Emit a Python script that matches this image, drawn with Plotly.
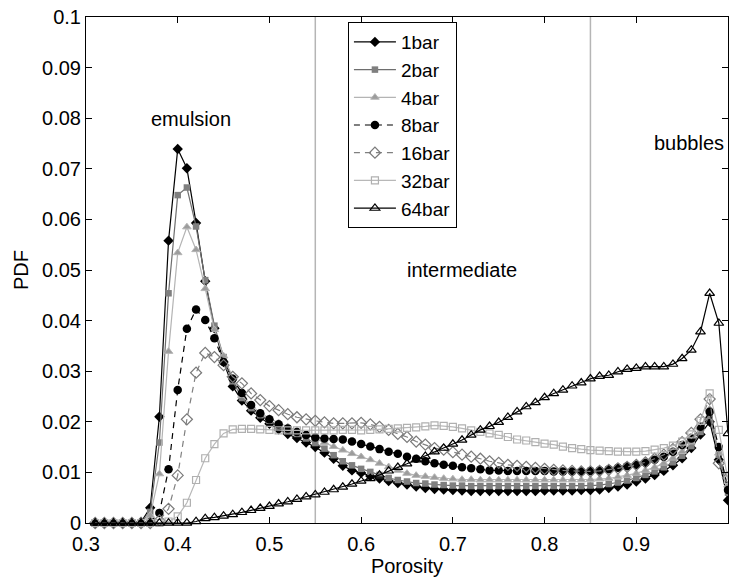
import plotly.graph_objects as go

porosity = [0.31, 0.32, 0.33, 0.34, 0.35, 0.36, 0.37, 0.38, 0.39, 0.40,
            0.41, 0.42, 0.43, 0.44, 0.45, 0.46, 0.47, 0.48, 0.49, 0.50,
            0.51, 0.52, 0.53, 0.54, 0.55, 0.56, 0.57, 0.58, 0.59, 0.60,
            0.61, 0.62, 0.63, 0.64, 0.65, 0.66, 0.67, 0.68, 0.69, 0.70,
            0.71, 0.72, 0.73, 0.74, 0.75, 0.76, 0.77, 0.78, 0.79, 0.80,
            0.81, 0.82, 0.83, 0.84, 0.85, 0.86, 0.87, 0.88, 0.89, 0.90,
            0.91, 0.92, 0.93, 0.94, 0.95, 0.96, 0.97, 0.98, 0.99, 1.00]

pdf_1bar = [0, 0, 0, 0, 0, 0.0002, 0.0030, 0.0210, 0.0558, 0.0739,
            0.0701, 0.0593, 0.0478, 0.0385, 0.0318, 0.0270, 0.0242, 0.0222, 0.0208, 0.0196,
            0.0185, 0.0176, 0.0168, 0.0159, 0.0150, 0.0139, 0.0127, 0.0113, 0.0104, 0.0099,
            0.0093, 0.0088, 0.0083, 0.0079, 0.0076, 0.0072, 0.0069, 0.0067, 0.0066, 0.0065,
            0.0064, 0.0063, 0.0063, 0.0063, 0.0063, 0.0063, 0.0063, 0.0063, 0.0063, 0.0064,
            0.0064, 0.0064, 0.0064, 0.0065, 0.0065, 0.0066, 0.0069, 0.0072, 0.0076, 0.0082,
            0.0088, 0.0095, 0.0103, 0.0114, 0.0128, 0.0148, 0.0175, 0.0200, 0.0125, 0.0045]

pdf_2bar = [0, 0, 0, 0, 0, 0.0001, 0.0022, 0.0159, 0.0454, 0.0648,
            0.0663, 0.0586, 0.0480, 0.0390, 0.0328, 0.0280, 0.0247, 0.0227, 0.0213, 0.0202,
            0.0192, 0.0184, 0.0176, 0.0167, 0.0158, 0.0147, 0.0134, 0.0122, 0.0114, 0.0107,
            0.0101, 0.0095, 0.0089, 0.0085, 0.0082, 0.0079, 0.0078, 0.0076, 0.0075, 0.0074,
            0.0074, 0.0073, 0.0073, 0.0073, 0.0073, 0.0073, 0.0073, 0.0073, 0.0073, 0.0073,
            0.0073, 0.0073, 0.0073, 0.0073, 0.0074, 0.0075, 0.0077, 0.0080, 0.0084, 0.0089,
            0.0095, 0.0102, 0.0110, 0.0120, 0.0133, 0.0152, 0.0180, 0.0212, 0.0135, 0.0060]

pdf_4bar = [0, 0, 0, 0, 0, 0.0001, 0.0015, 0.0097, 0.0339, 0.0534,
            0.0585, 0.0540, 0.0463, 0.0382, 0.0330, 0.0287, 0.0252, 0.0232, 0.0218, 0.0207,
            0.0198, 0.0190, 0.0183, 0.0175, 0.0167, 0.0159, 0.0151, 0.0144, 0.0137, 0.0131,
            0.0125, 0.0118, 0.0111, 0.0104, 0.0098, 0.0094, 0.0092, 0.0090, 0.0088, 0.0087,
            0.0086, 0.0086, 0.0085, 0.0085, 0.0085, 0.0085, 0.0085, 0.0085, 0.0085, 0.0085,
            0.0085, 0.0085, 0.0085, 0.0085, 0.0086, 0.0087, 0.0088, 0.0091, 0.0094, 0.0098,
            0.0104, 0.0110, 0.0118, 0.0128, 0.0141, 0.0160, 0.0188, 0.0225, 0.0138, 0.0075]

pdf_8bar = [0, 0, 0, 0, 0, 0, 0.0002, 0.0020, 0.0106, 0.0263,
            0.0384, 0.0422, 0.0401, 0.0365, 0.0318, 0.0285, 0.0257, 0.0233, 0.0217, 0.0205,
            0.0195, 0.0187, 0.0180, 0.0174, 0.0169, 0.0167, 0.0166, 0.0165, 0.0161, 0.0156,
            0.0151, 0.0146, 0.0141, 0.0137, 0.0131, 0.0127, 0.0122, 0.0118, 0.0115, 0.0113,
            0.0110, 0.0108, 0.0106, 0.0104, 0.0104, 0.0103, 0.0103, 0.0103, 0.0103, 0.0103,
            0.0102, 0.0102, 0.0102, 0.0102, 0.0103, 0.0104, 0.0106, 0.0109, 0.0112, 0.0115,
            0.0119, 0.0125, 0.0131, 0.0141, 0.0154, 0.0167, 0.0190, 0.0220, 0.0150, 0.0065]

pdf_16bar = [0, 0, 0, 0, 0, 0, 0, 0.0005, 0.0028, 0.0094,
             0.0205, 0.0297, 0.0336, 0.0328, 0.0312, 0.0289, 0.0276, 0.0256, 0.0243, 0.0231,
             0.0223, 0.0215, 0.0209, 0.0205, 0.0202, 0.0199, 0.0197, 0.0197, 0.0197, 0.0198,
             0.0195, 0.0190, 0.0184, 0.0176, 0.0170, 0.0161, 0.0155, 0.0148, 0.0145, 0.0140,
             0.0135, 0.0131, 0.0127, 0.0122, 0.0119, 0.0115, 0.0113, 0.0111, 0.0109, 0.0107,
             0.0105, 0.0104, 0.0103, 0.0102, 0.0102, 0.0103, 0.0105, 0.0108, 0.0111, 0.0115,
             0.0120, 0.0127, 0.0135, 0.0146, 0.0160, 0.0178, 0.0205, 0.0245, 0.0118, 0.0090]

pdf_32bar = [0, 0, 0, 0, 0, 0, 0, 0, 0.0003, 0.0013,
             0.0040, 0.0085, 0.0128, 0.0156, 0.0177, 0.0185, 0.0186, 0.0186, 0.0185, 0.0184,
             0.0183, 0.0183, 0.0183, 0.0183, 0.0183, 0.0183, 0.0183, 0.0184, 0.0184, 0.0183,
             0.0184, 0.0185, 0.0186, 0.0187, 0.0188, 0.0189, 0.0191, 0.0193, 0.0192, 0.0190,
             0.0187, 0.0183, 0.0180, 0.0177, 0.0174, 0.0170, 0.0165, 0.0163, 0.0160, 0.0157,
             0.0155, 0.0151, 0.0148, 0.0146, 0.0144, 0.0143, 0.0142, 0.0141, 0.0141, 0.0141,
             0.0142, 0.0145, 0.0148, 0.0153, 0.0161, 0.0175, 0.0202, 0.0256, 0.0184, 0.0085]

pdf_64bar = [0, 0, 0, 0, 0, 0, 0, 0, 0, 0,
             0, 0.0003, 0.0009, 0.0011, 0.0014, 0.0017, 0.0021, 0.0025, 0.0029, 0.0033,
             0.0038, 0.0042, 0.0047, 0.0052, 0.0056, 0.0061, 0.0066, 0.0071, 0.0077, 0.0083,
             0.0088, 0.0095, 0.0103, 0.0110, 0.0117, 0.0125, 0.0132, 0.0141, 0.0148, 0.0156,
             0.0164, 0.0174, 0.0184, 0.0191, 0.0199, 0.0209, 0.0220, 0.0230, 0.0238, 0.0248,
             0.0256, 0.0263, 0.0271, 0.0277, 0.0285, 0.0290, 0.0292, 0.0299, 0.0304, 0.0306,
             0.0309, 0.0309, 0.0309, 0.0314, 0.0325, 0.0342, 0.0378, 0.0454, 0.0395, 0.0177]

series_names = ["1bar", "2bar", "4bar", "8bar", "16bar", "32bar", "64bar"]
series_values = [pdf_1bar, pdf_2bar, pdf_4bar, pdf_8bar, pdf_16bar, pdf_32bar, pdf_64bar]

regime_bounds = [0.55, 0.85]
regime_labels = ["emulsion", "intermediate", "bubbles"]
regime_label_x = [0.414, 0.71, 0.958]
regime_label_y = [0.0798, 0.0500, 0.0751]

x_ticks = [0.3, 0.4, 0.5, 0.6, 0.7, 0.8, 0.9, 1.0]
x_ticktext = ["0.3", "0.4", "0.5", "0.6", "0.7", "0.8", "0.9", "1"]
y_ticks = [0, 0.01, 0.02, 0.03, 0.04, 0.05, 0.06, 0.07, 0.08, 0.09, 0.1]
y_ticktext = ["0", "0.01", "0.02", "0.03", "0.04", "0.05", "0.06", "0.07", "0.08", "0.09", "0.1"]

styles = [
    dict(line=dict(color="#000000", width=1.2), marker=dict(symbol="diamond", size=8, color="#000000")),
    dict(line=dict(color="#6e6e6e", width=1.2), marker=dict(symbol="square", size=6.5, color="#7f7f7f")),
    dict(line=dict(color="#b4b4b4", width=1.2), marker=dict(symbol="triangle-up", size=7.5, color="#9c9c9c",
                                                          line=dict(color="#b4b4b4", width=1))),
    dict(line=dict(color="#000000", width=1.2, dash="6px,5px"), marker=dict(symbol="circle", size=8.5, color="#000000")),
    dict(line=dict(color="#808080", width=1.2, dash="6px,5px"), marker=dict(symbol="diamond-open", size=8.5, color="#7a7a7a",
                                                                         line=dict(width=1.2))),
    dict(line=dict(color="#b8b8b8", width=1.2), marker=dict(symbol="square-open", size=7, color="#b0b0b0",
                                                          line=dict(width=1.2))),
    dict(line=dict(color="#000000", width=1.2), marker=dict(symbol="triangle-up-open", size=8.5, color="#000000",
                                                          line=dict(width=1.2))),
]

FONT = "Liberation Sans, Arial, sans-serif"
FS = 20
LEG_FS = 19

fig = go.Figure()
for name, vals, st in zip(series_names, series_values, styles):
    fig.add_trace(go.Scatter(x=porosity, y=vals, name=name, mode="lines+markers",
                             line=st["line"], marker=st["marker"], cliponaxis=False))

for b in regime_bounds:
    fig.add_shape(type="line", x0=b, x1=b, y0=0, y1=0.1, xref="x", yref="y",
                  line=dict(color="#b5b5b5", width=1.5), layer="below")

for t, xx, yy in zip(regime_labels, regime_label_x, regime_label_y):
    fig.add_annotation(x=xx, y=yy, text=t, showarrow=False, xref="x", yref="y",
                       font=dict(family=FONT, size=FS, color="black"))

fig.update_layout(
    width=729, height=577,
    margin=dict(l=86, r=1, t=17, b=54),
    paper_bgcolor="white", plot_bgcolor="white",
    font=dict(family=FONT, size=FS, color="black"),
    showlegend=True,
    legend=dict(x=0.408, y=0.99, xanchor="left", yanchor="top",
                bgcolor="white", bordercolor="black", borderwidth=1,
                itemwidth=42,
                font=dict(family=FONT, size=LEG_FS), tracegroupgap=0),
    xaxis=dict(range=[0.3, 1.0], tickvals=x_ticks, ticktext=x_ticktext,
               showgrid=False, zeroline=False, showline=True, linecolor="black", linewidth=1,
               mirror="ticks", ticks="inside", ticklen=6, tickcolor="black",
               ticklabelstandoff=3,
               tickfont=dict(family=FONT, size=FS),
               title=dict(text="Porosity", font=dict(family=FONT, size=FS), standoff=0)),
    yaxis=dict(range=[0, 0.1], tickvals=y_ticks, ticktext=y_ticktext,
               showgrid=False, zeroline=False, showline=True, linecolor="black", linewidth=1,
               mirror="ticks", ticks="inside", ticklen=6, tickcolor="black",
               tickfont=dict(family=FONT, size=FS),
               title=dict(text="PDF", font=dict(family=FONT, size=FS), standoff=8)),
)

fig.write_html("out.html")
